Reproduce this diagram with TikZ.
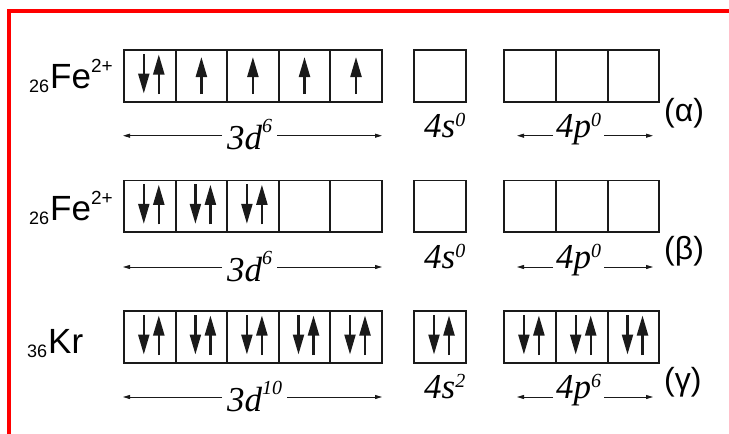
\documentclass[tikz,border=0pt]{standalone}
\usepackage{fontspec}
\setmainfont{Liberation Serif}
\newfontfamily\elfont{Liberation Sans}
\usetikzlibrary{arrows.meta}

\definecolor{ink}{HTML}{1A1A1A}
\definecolor{framered}{HTML}{FF0000}

% superscript on an orbital label: raise, text
\newcommand\orbsup[2]{\raisebox{#1}{\fontsize{20}{20}\selectfont #2}}
% element symbol with atomic number and charge
\newcommand\elsym[3]{\raisebox{-4pt}{\fontsize{18}{18}\selectfont #1}\hspace{1pt}#2\raisebox{16pt}{\fontsize{19}{19}\selectfont #3}}

\tikzset{
  orbbox/.style={draw=ink, line width=1.8pt, minimum width=51.6pt, minimum height=51.6pt,
                 inner sep=0pt, outer sep=0pt},
  spinarrow/.style={draw=ink, line width=2.2pt, -{Triangle[length=20pt,width=11pt]}},
  spanarrow/.style={draw=ink, line width=0.9pt, -{Triangle[length=7pt,width=4pt]}},
  orblbl/.style={font=\itshape\fontsize{35}{35}\selectfont, inner ysep=0pt, anchor=base west},
  ellbl/.style={font=\elfont\fontsize{35}{35}\selectfont, inner sep=0pt, anchor=base west},
  rowtag/.style={font=\elfont\fontsize{32}{32}\selectfont, inner sep=0pt, anchor=base west},
}

% one row of orbital boxes: prefix, centre y
\newcommand\orbrow[2]{%
  \foreach \i/\x in {1/149.8,2/201.4,3/252.9,4/304.5,5/356.0}
    \node[orbbox] (#1d\i) at (\x,#2) {};
  \node[orbbox] (#1s) at (440,#2) {};
  \foreach \i/\x in {1/529.9,2/581.7,3/633.5}
    \node[orbbox] (#1p\i) at (\x,#2) {};
}
% paired electrons in a box
\newcommand\pairspin[1]{%
  \draw[spinarrow] ([xshift=-6pt,yshift=22pt]#1.center) -- ([xshift=-6pt,yshift=-17.5pt]#1.center);
  \draw[spinarrow] ([xshift=9pt,yshift=-18pt]#1.center) -- ([xshift=9pt,yshift=21.5pt]#1.center);
}
% single electron in a box
\newcommand\upspin[1]{%
  \draw[spinarrow] ([yshift=-18pt]#1.center) -- ([yshift=19pt]#1.center);
}
% labels under a row: prefix, arrow y, d superscript, s superscript, p superscript
\newcommand\orblabels[5]{%
  \node[orblbl, inner xsep=5pt] (#1dl) at (222,#2+14) {3d\orbsup{17pt}{#3}};
  \coordinate (#1dL) at (123,#2);
  \coordinate (#1dR) at (382,#2);
  \draw[spanarrow] (#1dl.west |- #1dL) -- (#1dL);
  \draw[spanarrow] (#1dl.east |- #1dR) -- (#1dR);
  \node[orblbl, inner xsep=0pt] (#1sl) at (424,#2+1.5) {4s\orbsup{11pt}{#4}};
  \node[orblbl, inner xsep=3pt] (#1pl) at (553,#2+1.5) {4p\orbsup{11pt}{#5}};
  \coordinate (#1pL) at (517,#2);
  \coordinate (#1pR) at (653,#2);
  \draw[spanarrow] (#1pl.west |- #1pL) -- (#1pL);
  \draw[spanarrow] (#1pl.east |- #1pR) -- (#1pR);
}

\begin{document}
\begin{tikzpicture}[x=1pt, y=-1pt]
  \fill[white] (0,0) rectangle (729,434);
  \useasboundingbox (0,0) rectangle (729,434);

  % frame
  \draw[framered, line width=3.7pt] (729,11) -- (9,11) -- (9,434);

  % row (alpha): Fe2+ high spin
  \node[ellbl] (elA) at (29,88) {\elsym{26}{Fe}{2+}};
  \orbrow{a}{76}
  \pairspin{ad1}
  \upspin{ad2} \upspin{ad3} \upspin{ad4} \upspin{ad5}
  \orblabels{a}{135.7}{6}{0}{0}
  \node[rowtag] (tagA) at (664,121.5) {(α)};

  % row (beta): Fe2+ low spin
  \node[ellbl] (elB) at (29,220) {\elsym{26}{Fe}{2+}};
  \orbrow{b}{206.3}
  \pairspin{bd1} \pairspin{bd2} \pairspin{bd3}
  \orblabels{b}{267}{6}{0}{0}
  \node[rowtag] (tagB) at (664,259) {(β)};

  % row (gamma): Kr
  \node[ellbl] (elC) at (27,353) {\raisebox{-4pt}{\fontsize{18}{18}\selectfont 36}\hspace{1pt}Kr};
  \orbrow{c}{337}
  \foreach \n in {cd1,cd2,cd3,cd4,cd5,cs,cp1,cp2,cp3} {\pairspin{\n}}
  \orblabels{c}{397}{10}{2}{6}
  \node[rowtag] (tagC) at (664,390.5) {(γ)};
\end{tikzpicture}
\end{document}
